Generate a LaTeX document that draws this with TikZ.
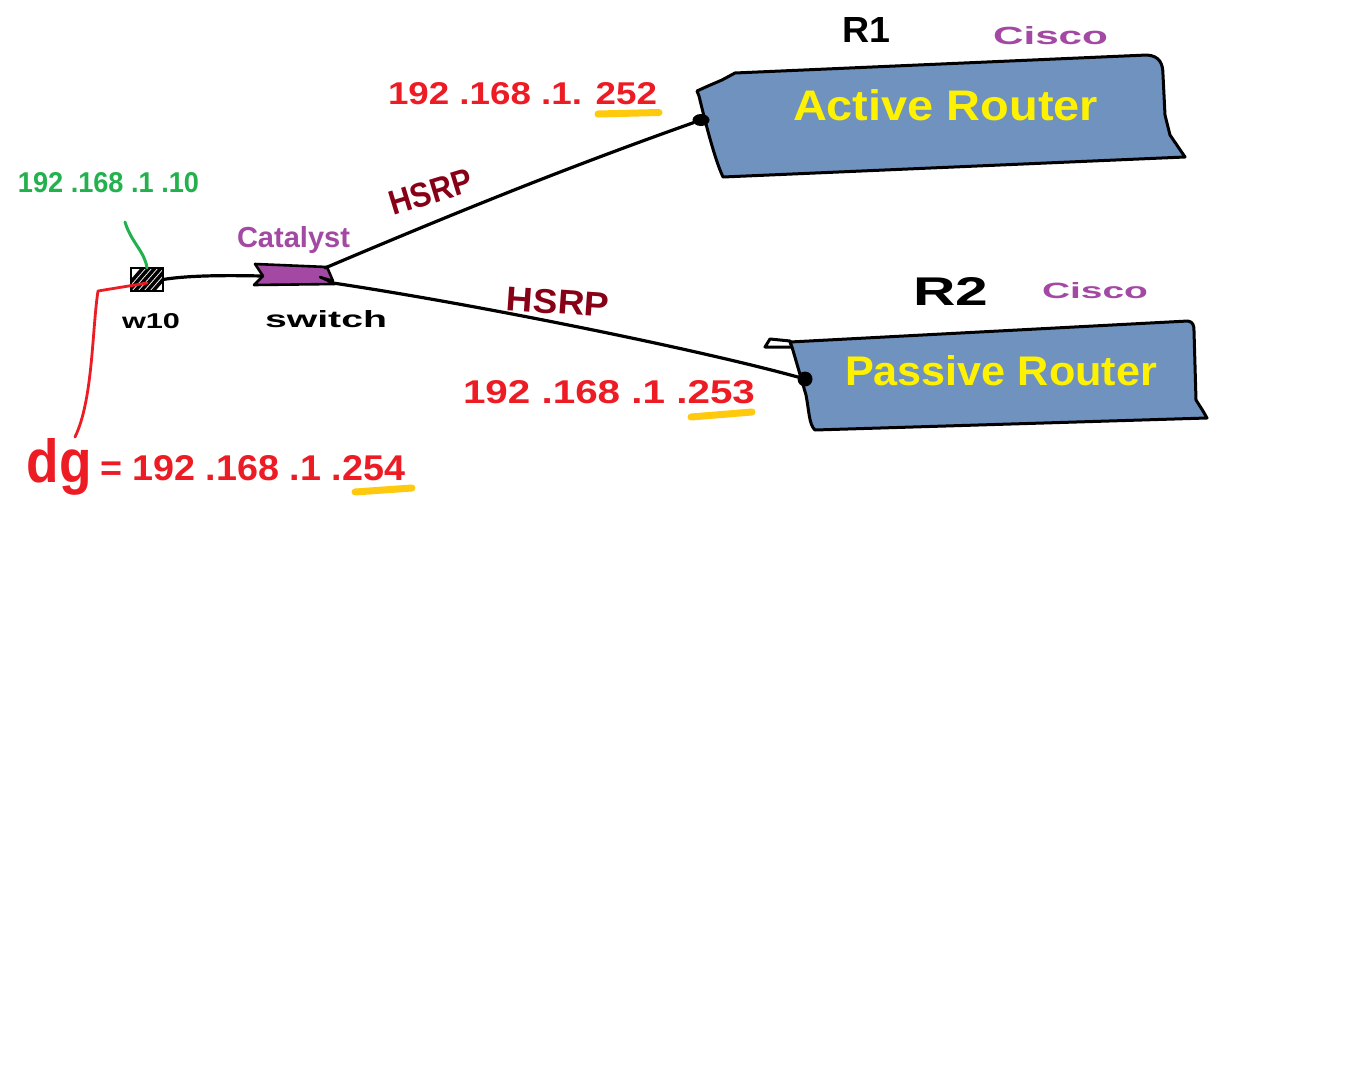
\documentclass[tikz,border=0pt]{standalone}
\usepackage{fontspec}
\setmainfont{Liberation Sans}
\usepackage{graphicx}
\usetikzlibrary{shapes.geometric}
\definecolor{mred}{RGB}{237,28,36}
\definecolor{mgreen}{RGB}{34,177,76}
\definecolor{mpurple}{RGB}{163,73,164}
\definecolor{mdark}{RGB}{136,0,21}
\definecolor{myellow}{RGB}{255,242,0}
\definecolor{mhigh}{RGB}{255,201,14}
\definecolor{mblue}{RGB}{112,146,190}
\newcommand{\fittxt}[3]{\resizebox{#1pt}{#2pt}{\bfseries #3}}
\tikzset{
  txt/.style={inner sep=0pt, outer sep=0pt, anchor=base west},
  wire/.style={draw=black, line width=3.2pt, line cap=round, line join=round},
  boxline/.style={draw=black, line width=3pt, line join=round},
  highlight/.style={draw=mhigh, line width=7pt, line cap=round},
  portdot/.style={fill=black, inner sep=0pt, outer sep=0pt},
  hostbox/.style={draw=black, line width=2.8pt, minimum width=32pt, minimum height=23pt, inner sep=0pt, outer sep=0pt}
}
\begin{document}
\begin{tikzpicture}[x=1pt,y=-1pt]
\useasboundingbox[fill=white] (0,0) rectangle (1352,1076);

% ---------- R1 box ----------
\path[boxline, fill=mblue] (699,96) -- (697,91) -- (708,86) -- (722,80) -- (735,73)
  -- (1147,55) .. controls (1160,56) and (1163,64) .. (1163,75)
  -- (1165,115) -- (1170,135) -- (1185,157)
  -- (723,177) .. controls (715,160) and (706,125) .. (699,96) -- cycle;
\node[portdot, ellipse, minimum width=17pt, minimum height=12pt] (r1p) at (701,120) {};

% ---------- R2 box ----------
\path[boxline, fill=white] (765,347) -- (770,339) -- (790,341) -- (792,347) -- cycle;
\path[boxline, fill=mblue] (790,342) -- (1188,321) .. controls (1193,322) and (1194,325) .. (1194,331)
  -- (1196,400) -- (1203,411) -- (1207,418)
  -- (815,430) .. controls (809,425) and (809,410) .. (806,395) -- (792,347) -- cycle;
\node[portdot, circle, minimum size=15pt] (r2p) at (805,379) {};

% ---------- switch ----------
\path[boxline, fill=mpurple, line width=2.6pt] (255,264) -- (327,267) -- (333,281) -- (320,277) -- (335,284)
  -- (254,285) -- (263,276) -- cycle;
\coordinate (swL) at (262,276);
\coordinate (swA) at (325,268);
\coordinate (swB) at (333,283);

% ---------- host ----------
\node[hostbox] (w10) at (147,279.5) {};
\begin{scope}
  \clip (131,268) rectangle (163,291);
  \foreach \k in {-8,-2,4,10,16,22} {
    \draw[black, line width=3.5pt] (131+\k,291) -- (151+\k,268);
  }
\end{scope}
\coordinate (hostR) at (147,283);

% ---------- connectors ----------
\draw[wire] (w10.east) .. controls (185,276) and (215,275) .. (swL);
\draw[wire] (swA) .. controls (450,215) and (560,170) .. (r1p);
\draw[wire] (swB) .. controls (480,305) and (700,350) .. (r2p);

\coordinate (gtail) at (125,222);
\draw[mgreen, line width=3pt, line cap=round] (gtail) .. controls (131,242) and (145,252) .. (w10.north);

\coordinate (dgtop) at (75,437);
\draw[mred, line width=2.8pt, line cap=round, line join=round] (hostR) -- (98,291) .. controls (92,330) and (93,400) .. (dgtop);

% ---------- highlights ----------
\draw[highlight] (598,114) -- (659,112.5);
\draw[highlight] (691,417) -- (752,412);
\draw[highlight] (355,492) -- (412,488);

% ---------- texts ----------
\node[txt, text=mred] (ip252) at (388,104) {\fittxt{269}{22}{192 .168 .1. 252}};
\node[txt, text=mred] (ip253) at (463,403) {\fittxt{292}{23}{192 .168 .1 .253}};
\node[txt, text=mgreen] (ip10) at (18,192) {\fittxt{181}{20}{192 .168 .1 .10}};
\node[txt, text=mpurple] (cat) at (237,247) {\fittxt{113}{21}{Catalyst}};
\node[txt, text=black] (swl) at (265,327) {\fittxt{122}{17}{switch}};
\node[txt, text=black] (w10l) at (122,328) {\fittxt{58}{15}{w10}};
\node[txt, text=mred] (dg) at (27,482) {\fittxt{65}{44}{dg}};
\node[txt, text=mred] (ip254) at (100,480) {\fittxt{305}{25}{= 192 .168 .1 .254}};
\node[inner sep=0pt, text=mdark, rotate=17] (hsrp1) at (431,192) {\fittxt{85}{24}{HSRP}};
\node[inner sep=0pt, text=mdark, rotate=-4] (hsrp2) at (558,302) {\fittxt{103}{24}{HSRP}};
\node[txt, text=black] (r1l) at (842,42) {\fittxt{48}{25}{R1}};
\node[txt, text=mpurple] (cis1) at (993,45) {\fittxt{115}{18}{Cisco}};
\node[txt, text=black] (r2l) at (913,305) {\fittxt{75}{28}{R2}};
\node[txt, text=mpurple] (cis2) at (1042,298) {\fittxt{106}{16}{Cisco}};
\node[txt, text=myellow] (act) at (793,120) {\fittxt{305}{31}{Active Router}};
\node[txt, text=myellow] (pas) at (845,385) {\fittxt{312}{30}{Passive Router}};
\end{tikzpicture}
\end{document}
